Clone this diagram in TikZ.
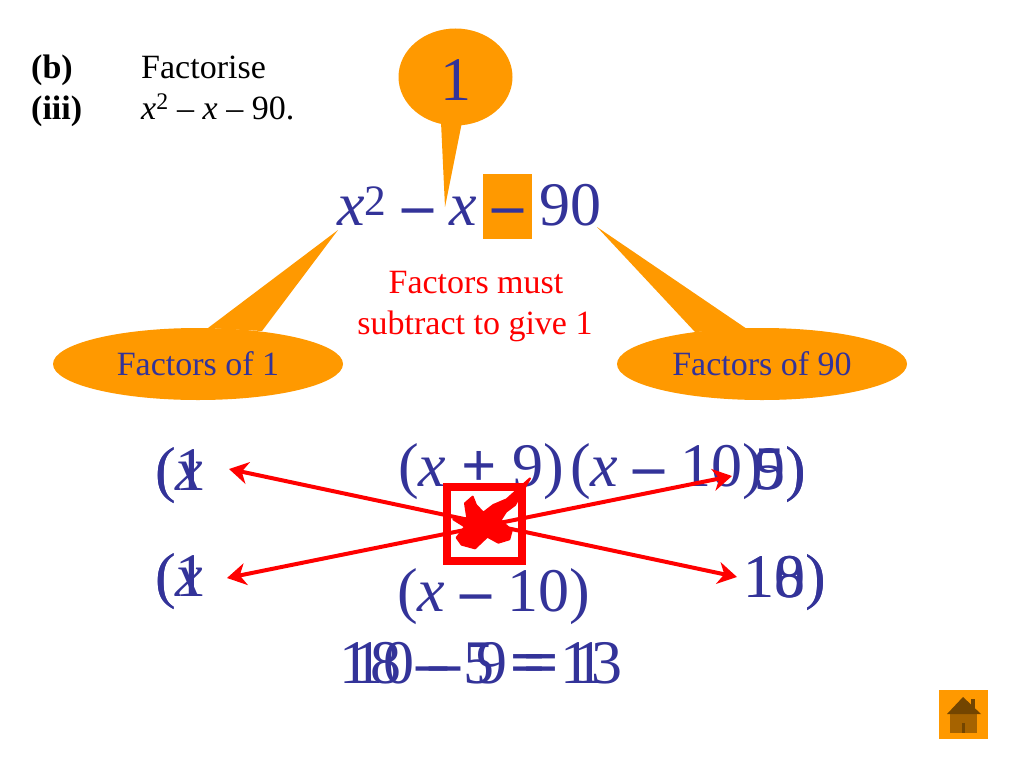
\documentclass[tikz,border=0pt]{standalone}
\usepackage{fontspec}
\setmainfont{Liberation Serif}
\usetikzlibrary{arrows.meta,shapes.geometric}
\definecolor{slidenavy}{HTML}{333399}
\definecolor{slideorange}{HTML}{FF9900}
\newcommand{\bigtxt}{\fontsize{62}{62}\selectfont}
\newcommand{\smalltxt}{\fontsize{34}{34}\selectfont}
\newcommand{\thickdash}{\textbf{–}}
\tikzset{
  mathtxt/.style={anchor=base west,inner sep=0pt,text=slidenavy,font=\bigtxt},
  headtxt/.style={anchor=base west,inner sep=0pt,text=black,font=\smalltxt},
  redtxt/.style={anchor=base,inner sep=0pt,text=red,font=\smalltxt},
  calloutell/.style={ellipse,fill=slideorange,inner sep=0pt,text=slidenavy,font=\smalltxt},
  crossarrow/.style={red,line width=4pt,{Stealth[length=19pt,width=22pt,inset=6pt]}-{Stealth[length=19pt,width=22pt,inset=6pt]}}
}
\begin{document}
\begin{tikzpicture}[x=1pt,y=-1pt]
  \useasboundingbox[fill=white] (0,0) rectangle (1024,768);

  \node[headtxt] (partb) at (31,78) {\textbf{(b)}};
  \node[headtxt] (partiii) at (31,119) {\textbf{(iii)}};
  \node[headtxt] (factorise) at (141,78) {Factorise};
  \node[headtxt] (question) at (141,119) {\textit{x}\textsuperscript{2} – \textit{x} – 90.};

  \node[calloutell,minimum width=114pt,minimum height=97pt] (calltop) at (455.5,77) {};
  \node[calloutell,minimum width=290pt,minimum height=72pt] (callleft) at (198,364) {\raisebox{-4pt}{Factors of 1}};
  \node[calloutell,minimum width=290pt,minimum height=72pt] (callright) at (762,364) {\raisebox{-4pt}{Factors of 90}};
  \coordinate (tiptop) at (445,207);
  \coordinate (tipleft) at (338,230);
  \coordinate (tipright) at (597,227);
  \fill[slideorange] (441,122) -- (tiptop) -- (462,122) -- cycle;
  \fill[slideorange] (208,328) -- (tipleft) -- (262,331) -- cycle;
  \fill[slideorange] (695,332) -- (tipright) -- (747,329) -- cycle;
  \node[anchor=base,inner sep=0pt,text=slidenavy,font=\bigtxt] (one) at (455.5,100) {1};

  \fill[slideorange] (483,174) rectangle (532,239);
  \node[mathtxt] (expr) at (337,225) {\textit{x}\textsuperscript{2} \thickdash{} \textit{x} \thickdash{} 90};

  \node[redtxt] (mustline) at (476,293) {Factors must};
  \node[redtxt] (giveline) at (475,334) {subtract to give 1};

  \node[mathtxt] (lefttopa) at (155,490) {(1};
  \node[mathtxt] (lefttopb) at (155,490) {(\textit{x}};
  \node[mathtxt] (leftbota) at (155,596) {(1};
  \node[mathtxt] (leftbotb) at (155,596) {(\textit{x}};
  \node[mathtxt] (trya) at (398,486) {(\textit{x} \textbf{+} 9)};
  \node[mathtxt] (tryb) at (570,486) {(\textit{x} \thickdash{} 10)};
  \node[mathtxt] (tryc) at (397,611) {(\textit{x} \thickdash{} 10)};
  \node[mathtxt] (righttopa) at (754,489) {5)};
  \node[mathtxt] (righttopb) at (754,489) {9)};
  \node[mathtxt] (rightbota) at (743,597) {10)};
  \node[mathtxt] (rightbotb) at (743,597) {18)};
  \node[mathtxt] (suma) at (339,683) {18 \thickdash{} 5 \textbf{=} 13};
  \node[mathtxt] (sumb) at (352,683) {10 \thickdash{} 9 \textbf{=} 1};

  \coordinate (endlt) at (229,469);
  \coordinate (endrb) at (737,577);
  \coordinate (endlb) at (227,578);
  \coordinate (endrt) at (732,476);
  \draw[crossarrow] (endlt) -- (endrb);
  \draw[crossarrow] (endlb) -- (endrt);
  \node[draw=red,line width=8pt,minimum width=75pt,minimum height=74pt,inner sep=0pt] (crossbox) at (484.5,523.5) {};
  \filldraw[red,line width=2pt,line join=round,shift={(430,470)},scale=1/3] (105,100) -- (128,80) -- (138,105) -- (160,128) -- (190,105) -- (230,88) -- (300,25) -- (255,105) -- (228,125) -- (212,150) -- (245,182) -- (238,208) -- (205,218) -- (172,200) -- (135,235) -- (95,224) -- (80,203) -- (105,170) -- (70,148) -- (112,145) -- cycle;

  \fill[slideorange] (939,690) rectangle (988,738.5);
  \fill[black!35!slideorange] (950,714) rectangle (977,733);
  \fill[black!55!slideorange] (971,699) rectangle (975,710);
  \fill[black!55!slideorange] (963,697) -- (981,714) -- (947,714) -- cycle;
  \fill[black!55!slideorange] (962,723) rectangle (965,733);
\end{tikzpicture}
\end{document}
